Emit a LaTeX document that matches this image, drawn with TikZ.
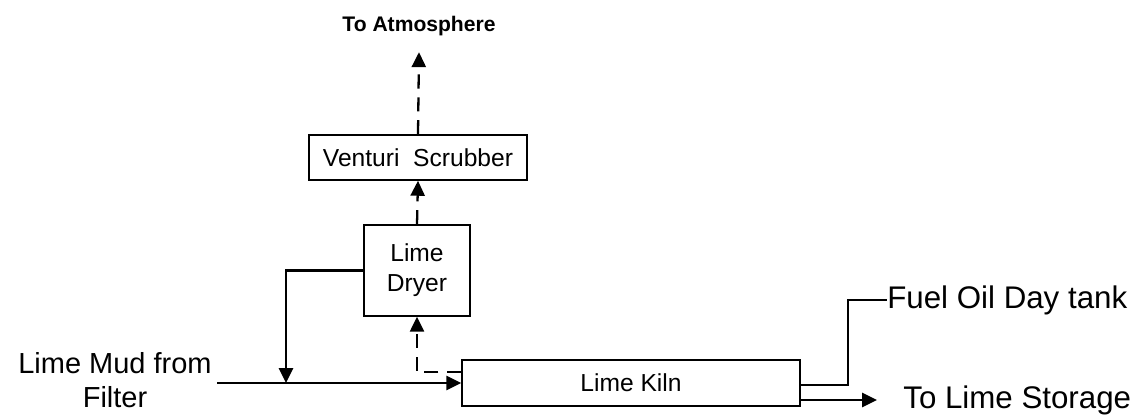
\documentclass[tikz,border=0pt]{standalone}
\usepackage{fontspec}
\setmainfont{Liberation Sans}
\usetikzlibrary{arrows.meta,positioning}

\begin{document}
\begin{tikzpicture}[x=0.02cm,y=-0.02cm,
  unit/.style={rectangle,draw,line width=0.9pt,inner sep=0pt,align=center,
               font=\fontsize{14}{17}\selectfont},
  lbl/.style={inner sep=0pt,align=center,font=\fontsize{17.8}{20}\selectfont},
  flow/.style={line width=1.3pt,-{Triangle[length=8.5pt,width=8pt]}},
  gas/.style={flow,dash pattern=on 8pt off 5pt},
  pipe/.style={line width=1.3pt}]
\useasboundingbox (0,0) rectangle (1136,418);
\node[unit,minimum width=4.36cm,minimum height=0.9cm]  (scrub) at (418,157.5) {Venturi\ \ Scrubber};
\node[unit,minimum width=2.12cm,minimum height=1.82cm] (dryer) at (417,270.5) {Lime\\Dryer};
\node[unit,minimum width=6.76cm,minimum height=0.92cm] (kiln)  at (631,383)   {Lime Kiln};
\node[inner sep=0pt,font=\bfseries\fontsize{12}{14}\selectfont] (atm) at (419,26) {To Atmosphere};
\node[lbl,font=\fontsize{16.5}{19.5}\selectfont] (mud) at (115,380) {Lime Mud from\\Filter};
\node[lbl,anchor=west] (fuel)    at (887,300) {Fuel Oil Day tank};
\node[lbl,anchor=west] (storage) at (903,400) {To Lime Storage};
\coordinate (mudin) at (217,383);
\coordinate (drop)  at (286,383);
\draw[flow] (mudin) -- (kiln.west);
\draw[flow] (dryer.west) -| (drop);
\draw[gas]  ([yshift=0.22cm]kiln.west) -| (dryer.south);
\draw[gas]  (dryer.north) -- (scrub.south);
\draw[gas]  (scrub.north) -- ([yshift=-0.32cm]atm.south);
\draw[pipe] ([yshift=-0.04cm]kiln.east) -- ++(47,0) |- (fuel.west);
\draw[flow,shorten >=0.52cm] (kiln.east |- storage.west) -- (storage.west);
\end{tikzpicture}
\end{document}
